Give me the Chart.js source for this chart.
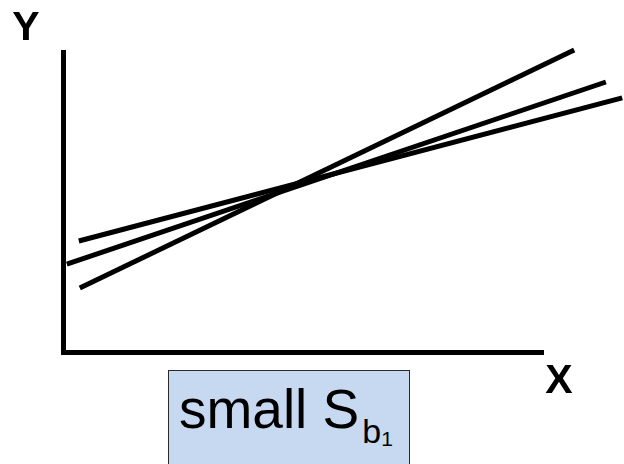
<!DOCTYPE html>
<html>
<head>
<meta charset="utf-8">
<script src="https://cdn.jsdelivr.net/npm/chart.js@4/dist/chart.umd.min.js"></script>
<style>
  html, body { margin: 0; padding: 0; background: #fff; overflow: hidden; }
  #wrap { position: relative; width: 624px; height: 464px; }
  #grafico { position: absolute; left: 0; top: 0; }
  .caja {
    position: absolute; left: 168px; top: 370px; width: 242px; height: 110px;
    box-sizing: border-box; border: 1.5px solid #2a2a2a; background: #c6d9f1;
    font-family: "Liberation Sans", Arial, sans-serif; color: #000;
  }
  .caja .texto { position: absolute; left: 10px; top: 11px; font-size: 55px; line-height: 54px; white-space: nowrap; }
  .caja .sub { position: relative; top: 15px; margin-left: 3px; font-size: 34px; }
  .caja .sub2 { position: relative; top: 3px; font-size: 21px; }
</style>
</head>
<body>
<div id="wrap">
  <canvas id="grafico" width="624" height="464"></canvas>
  <div class="caja"><span class="texto">small S<span class="sub">b<span class="sub2">1</span></span></span></div>
</div>
<script>
// Tres rectas de regresión que se cruzan cerca del punto medio
const nombres = ['pendiente alta', 'pendiente media', 'pendiente baja'];
const xInicio = [0.35, 0.08, 0.33];
const yInicio = [2.13, 2.93, 3.70];
const xFin = [10.65, 11.31, 11.65];
const yFin = [10.07, 9.00, 8.47];

// Etiquetas de los ejes
const etiquetaX = 'X';
const etiquetaY = 'Y';

const datasets = nombres.map((n, i) => ({
  label: n,
  data: [{ x: xInicio[i], y: yInicio[i] }, { x: xFin[i], y: yFin[i] }],
  showLine: true,
  borderColor: '#000',
  borderWidth: 5,
  borderCapStyle: 'butt',
  pointRadius: 0,
  clip: false
}));

// Letras de los ejes junto a los extremos
const letrasEjes = {
  id: 'letrasEjes',
  afterDraw(chart) {
    const { ctx, chartArea } = chart;
    ctx.save();
    ctx.fillStyle = '#000';
    ctx.font = 'bold 41px "Liberation Sans", Arial, sans-serif';
    ctx.textBaseline = 'alphabetic';
    ctx.textAlign = 'center';
    ctx.fillText(etiquetaY, chartArea.left - 37, 40);
    ctx.fillText(etiquetaX, chartArea.right + 16, chartArea.bottom + 41);
    ctx.restore();
  }
};

const ejeSinMarcas = {
  grid: { display: false, drawTicks: false },
  ticks: { display: false },
  border: { display: true, color: '#000', width: 5 }
};

new Chart(document.getElementById('grafico').getContext('2d'), {
  type: 'scatter',
  data: { datasets },
  options: {
    responsive: false,
    animation: false,
    layout: { padding: { left: 63, top: 52, right: 81, bottom: 112 } },
    plugins: { legend: { display: false }, tooltip: { enabled: false } },
    scales: {
      x: { ...ejeSinMarcas, min: 0, max: 10, afterFit: s => { s.height = 0; } },
      y: { ...ejeSinMarcas, min: 0, max: 10, afterFit: s => { s.width = 0; } }
    }
  },
  plugins: [letrasEjes]
});
</script>
</body>
</html>
